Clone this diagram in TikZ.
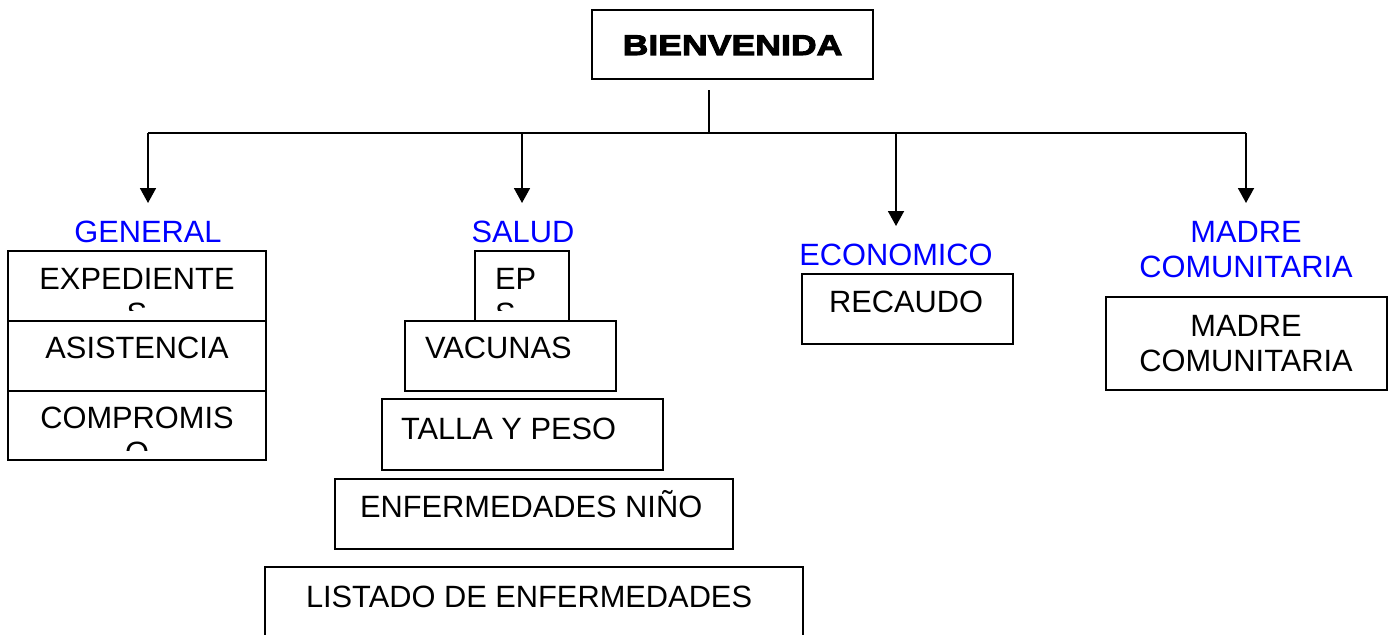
\documentclass[tikz,border=0pt]{standalone}
\usepackage{fontspec}
\setmainfont{Liberation Sans}
\newfontfamily\heavyfont[FakeStretch=1.25,BoldFeatures={FakeBold=3.5}]{Liberation Sans}
\usetikzlibrary{arrows.meta}
\definecolor{lblblue}{RGB}{0,0,255}
\begin{document}
\begin{tikzpicture}[x=1pt,y=-1pt,
  box/.style={draw, line width=1.8pt, inner sep=0pt, outer sep=0pt, anchor=north west},
  txt/.style={font=\fontsize{30.8}{35}\selectfont, inner sep=0pt, outer sep=0pt},
  lbl/.style={txt, text=lblblue},
  conn/.style={line width=1.8pt},
  arr/.style={conn, -{Triangle[width=16pt,length=15pt]}}]
\useasboundingbox (0,0) rectangle (1388,634);
\clip (0,0) rectangle (1388,634);
% top
\node[box, minimum width=281pt, minimum height=69pt] (bien) at (592,10) {};
\node[inner sep=0pt, anchor=base, font=\heavyfont\bfseries\fontsize{28.5}{32}\selectfont] (bientxt) at (732.5,55) {BIENVENIDA};
\coordinate (t0) at (709,90);
\coordinate (j) at (709,133);
\coordinate (b1) at (148,133);
\coordinate (b2) at (522,133);
\coordinate (b3) at (896,133);
\coordinate (b4) at (1246,133);
\coordinate (a1) at (148,203);
\coordinate (a2) at (522,203);
\coordinate (a3) at (896,226);
\coordinate (a4) at (1246,203);
\draw[conn] (t0) -- (j);
\draw[conn] (b1) -- (b4);
\draw[arr] (b1) -- (a1);
\draw[arr] (b2) -- (a2);
\draw[arr] (b3) -- (a3);
\draw[arr] (b4) -- (a4);
% labels
\node[lbl, anchor=base] (lgen) at (148,242) {GENERAL};
\node[lbl, anchor=base] (lsal) at (523,242) {SALUD};
\node[lbl, anchor=base] (leco) at (896,265) {ECONOMICO};
\node[lbl, anchor=north, align=center] (lmad) at (1246,221) {MADRE\\COMUNITARIA};
% general column
\node[box, minimum width=258pt, minimum height=70pt] (exp) at (8,251) {};
\node[box, minimum width=258pt, minimum height=70pt] (asis) at (8,321) {};
\node[box, minimum width=258pt, minimum height=69pt] (comp) at (8,391) {};
\begin{scope}
\clip (exp.north west) rectangle ([yshift=11pt]exp.south east);
\node[txt, align=center, anchor=north] (exptxt) at (137,268) {EXPEDIENTE\\S};
\end{scope}
\node[txt, anchor=base] (asistxt) at (137,358) {ASISTENCIA};
\begin{scope}
\clip (comp.north west) rectangle ([yshift=10pt]comp.south east);
\node[txt, align=center, anchor=north] (comptxt) at (137,407) {COMPROMIS\\O};
\end{scope}
% salud column
\node[box, minimum width=94pt, minimum height=70pt] (eps) at (475,251) {};
\begin{scope}
\clip (eps.north west) rectangle ([yshift=11pt]eps.south east);
\node[txt, align=left, anchor=north west] (epstxt) at (495,268) {EP\\S};
\end{scope}
\node[box, minimum width=211pt, minimum height=70pt] (vac) at (405,321) {};
\node[txt, anchor=base west] (vactxt) at (425,358) {VACUNAS};
\node[box, minimum width=281pt, minimum height=71pt] (talla) at (382,399) {};
\node[txt, anchor=base west] (tallatxt) at (401,439) {TALLA Y PESO};
\node[box, minimum width=398pt, minimum height=70pt] (enf) at (335,479) {};
\node[txt, anchor=base west] (enftxt) at (360,517) {ENFERMEDADES NIÑO};
\node[box, minimum width=538pt, minimum height=90pt] (list) at (265,567) {};
\node[txt, anchor=base west] (listtxt) at (306,607) {LISTADO DE ENFERMEDADES};
% economico
\node[box, minimum width=211pt, minimum height=70pt] (rec) at (802,274) {};
\node[txt, anchor=base west] (rectxt) at (829,312) {RECAUDO};
% madre comunitaria
\node[box, minimum width=281pt, minimum height=93pt] (mad) at (1106,297) {};
\node[txt, anchor=north, align=center] (madtxt) at (1246,315) {MADRE\\COMUNITARIA};
\end{tikzpicture}
\end{document}
